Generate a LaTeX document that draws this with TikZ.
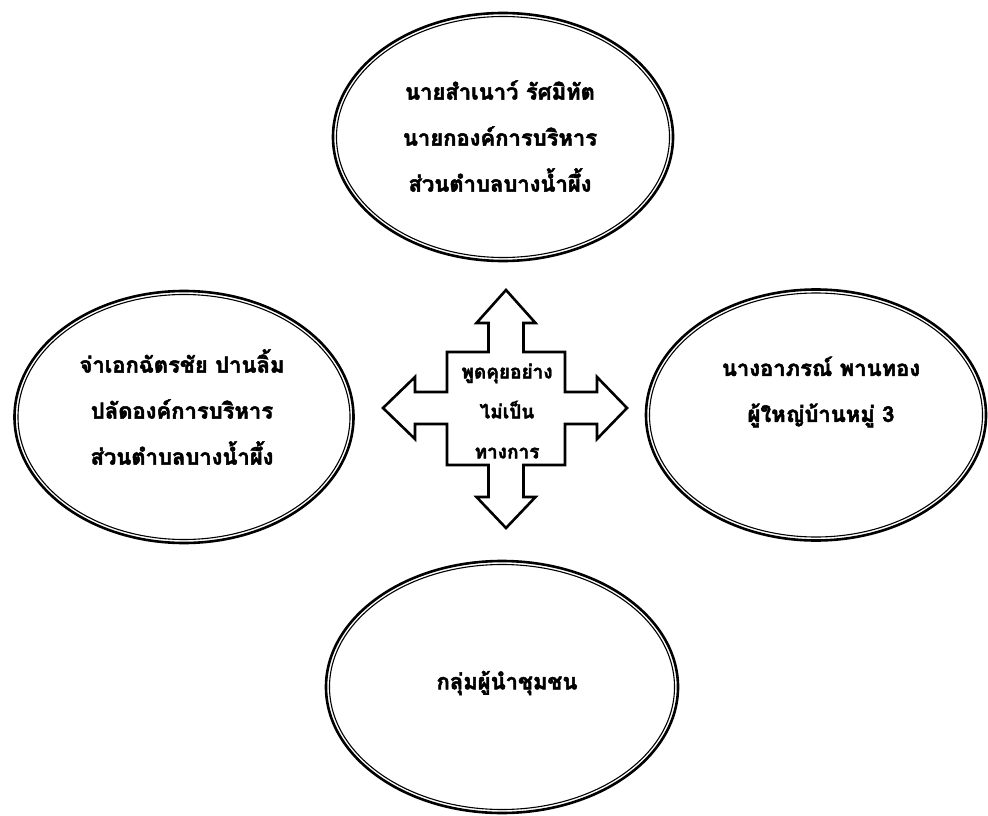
\documentclass[tikz,border=0pt]{standalone}
\usepackage{fontspec}
\newfontfamily\thaifont[Script=Thai,FakeBold=2.2]{Loma}
\usetikzlibrary{shapes.geometric}
\begin{document}
\begin{tikzpicture}[x=1pt,y=-1pt,
  outerell/.style={ellipse,draw,line width=2.6pt,inner sep=0pt,outer sep=0pt},
  innerell/.style={ellipse,draw,line width=1.1pt,inner sep=0pt,outer sep=0pt},
  ttext/.style={font=\thaifont\bfseries\fontsize{22}{46}\selectfont,align=center,inner sep=0pt},
  ctext/.style={font=\thaifont\bfseries\fontsize{19}{40}\selectfont,align=center,inner sep=0pt},
  crossline/.style={draw,line width=2.6pt,line join=miter}]
\useasboundingbox (0,0) rectangle (988,816);
% ellipses
\node[outerell,minimum width=340pt,minimum height=248pt] (top) at (503,137) {};
\node[innerell,minimum width=333pt,minimum height=241pt] (topi) at (503,137) {};
\node[outerell,minimum width=339pt,minimum height=252pt] (left) at (184,417) {};
\node[innerell,minimum width=332pt,minimum height=245pt] (lefti) at (184,417) {};
\node[outerell,minimum width=340pt,minimum height=251pt] (right) at (816,415) {};
\node[innerell,minimum width=333pt,minimum height=244pt] (righti) at (816,415) {};
\node[outerell,minimum width=352pt,minimum height=252pt] (bottom) at (502,687) {};
\node[innerell,minimum width=345pt,minimum height=245pt] (bottomi) at (502,687) {};
% texts
\node[ttext] (ttop) at (500,136) {นายสำเนาว์ รัศมิทัต\\นายกองค์การบริหาร\\ส่วนตำบลบางน้ำผึ้ง};
\node[ttext] (tleft) at (182,407) {จ่าเอกฉัตรชัย ปานลิ้ม\\ปลัดองค์การบริหาร\\ส่วนตำบลบางน้ำผึ้ง};
\node[ttext] (tright) at (821,392) {นางอาภรณ์ พานทอง\\ผู้ใหญ่บ้านหมู่ 3};
\node[ttext] (tbottom) at (507,683) {กลุ่มผู้นำชุมชน};
% cross arrow
\draw[crossline] (506,290) -- (535.5,323) -- (523.5,323) -- (523.5,352) -- (565,352)
  -- (565,392) -- (597,392) -- (597,377) -- (627,408) -- (597,439) -- (597,424)
  -- (565,424) -- (565,465) -- (523.5,465) -- (523.5,497) -- (535.5,497) -- (506,528)
  -- (476.5,497) -- (488.5,497) -- (488.5,465) -- (447,465) -- (447,424) -- (415,424)
  -- (415,439) -- (383,408) -- (415,377) -- (415,392) -- (447,392) -- (447,352)
  -- (488.5,352) -- (488.5,323) -- (476.5,323) -- cycle;
\node[ctext] (tcenter) at (507,411) {พูดคุยอย่าง\\ไม่เป็น\\ทางการ};
\end{tikzpicture}
\end{document}
